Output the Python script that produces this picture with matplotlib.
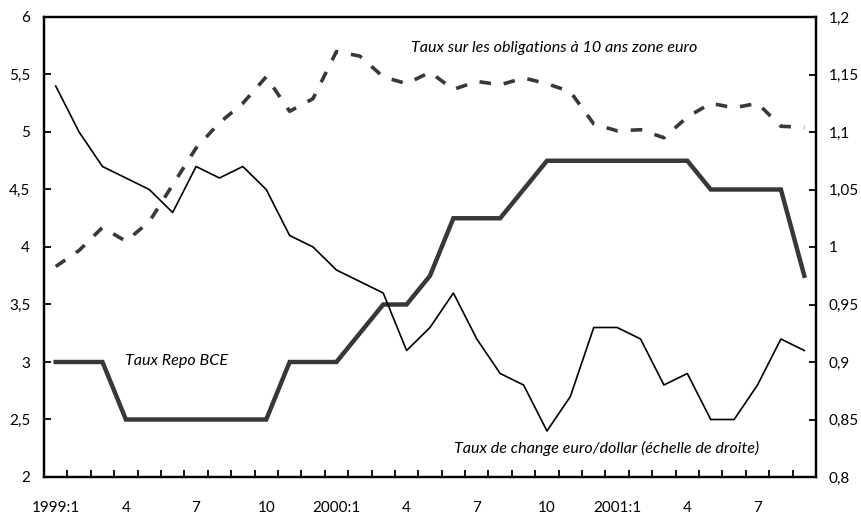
import numpy as np
import matplotlib.pyplot as plt

plt.rcParams['font.family'] = ['Lato', 'DejaVu Sans']

# monthly data, 1999:1 to 2001:9
mois = ['1999:1', '4', '7', '10', '2000:1', '4', '7', '10', '2001:1', '4', '7']

repo = [3, 3, 3, 2.5, 2.5, 2.5, 2.5, 2.5, 2.5, 2.5, 3, 3, 3, 3.25, 3.5, 3.5,
        3.75, 4.25, 4.25, 4.25, 4.5, 4.75, 4.75, 4.75, 4.75, 4.75, 4.75, 4.75,
        4.5, 4.5, 4.5, 4.5, 3.75]

oblig_10ans = [3.83, 3.97, 4.17, 4.05, 4.22, 4.54, 4.86, 5.08, 5.25, 5.48,
               5.18, 5.29, 5.70, 5.66, 5.48, 5.42, 5.52, 5.37, 5.44, 5.41,
               5.47, 5.42, 5.35, 5.07, 5.01, 5.02, 4.95, 5.13, 5.25, 5.21,
               5.25, 5.05, 5.04]

euro_dollar = [1.14, 1.10, 1.07, 1.06, 1.05, 1.03, 1.07, 1.06, 1.07, 1.05,
               1.01, 1.00, 0.98, 0.97, 0.96, 0.91, 0.93, 0.96, 0.92, 0.89,
               0.88, 0.84, 0.87, 0.93, 0.93, 0.92, 0.88, 0.89, 0.85, 0.85,
               0.88, 0.92, 0.91]

n = len(repo)
x = np.arange(n)

fig = plt.figure(figsize=(8.61, 5.15), dpi=100)
ax = fig.add_axes([44/861, 1 - 477/515, (816 - 44)/861, (477 - 17)/515])
ax2 = ax.twinx()

gris = '#383838'
ax.plot(x, oblig_10ans, color=gris, lw=2.6, dashes=(3.2, 3.6))
ax.plot(x, repo, color=gris, lw=3.2, solid_joinstyle='miter')
ax2.plot(x, euro_dollar, color='black', lw=1.2)

ax.set_xlim(-0.5, n - 0.5)
ax.set_ylim(2, 6)
ax2.set_ylim(0.8, 1.2)

def virgule(v):
    s = f'{v:.2f}'.rstrip('0').rstrip('.')
    return s.replace('.', ',')

yt = np.arange(2, 6.01, 0.5)
ax.set_yticks(yt)
ax.set_yticklabels([virgule(v) for v in yt])
yt2 = np.arange(0.8, 1.2001, 0.05)
ax2.set_yticks(yt2)
ax2.set_yticklabels([virgule(v) for v in yt2])

# tick marks between months, labels every quarter
ax.set_xticks(np.arange(0.5, n - 1, 1))
ax.set_xticklabels([])
ax.set_xticks(np.arange(0, n, 3), minor=True)
ax.set_xticklabels(mois, minor=True)
ax.tick_params(axis='x', which='major', direction='in', length=5, width=1.3)
ax.tick_params(axis='x', which='minor', length=0, pad=17, labelsize=11)
ax.tick_params(axis='y', direction='in', length=5, width=1.3, pad=10, labelsize=11)
ax2.tick_params(axis='y', direction='in', length=5, width=1.3, pad=9, labelsize=11)

for a in (ax, ax2):
    for s in a.spines.values():
        s.set_linewidth(1.6)

ax.text(15.2, 5.73, 'Taux sur les obligations à 10 ans zone euro',
        style='italic', fontsize=11.6, va='center', ha='left')
ax.text(2.97, 3.01, 'Taux Repo BCE', style='italic', fontsize=11.6,
        va='center', ha='left')
ax.text(17.03, 2.25, 'Taux de change euro/dollar (échelle de droite)',
        style='italic', fontsize=11.6, va='center', ha='left')

fig.savefig('out.png', dpi=100)
